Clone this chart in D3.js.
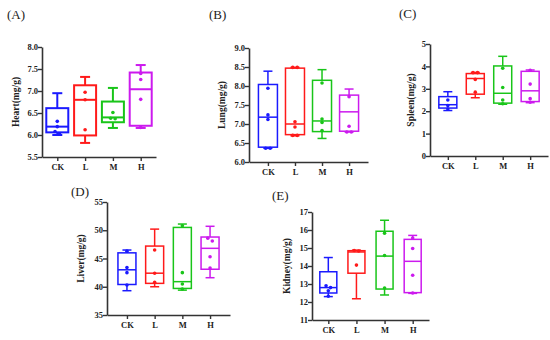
<!DOCTYPE html>
<html>
<head>
<meta charset="utf-8">
<script src="https://cdn.jsdelivr.net/npm/d3@7"></script>
<style>
  body { margin: 0; background: #fff; }
  text { font-family: "Liberation Serif", "Times New Roman", serif; }
</style>
</head>
<body>
<div id="chart"></div>
<script>
var groups = ["CK", "L", "M", "H"];
var colors = ["#1a1aff", "#ff1a1a", "#19c519", "#cc1aee"];

// five-number summaries per group: [min, q1, median, q3, max]
var heartStats = [[6.00, 6.06, 6.19, 6.61, 6.95], [5.82, 5.99, 6.80, 7.13, 7.32], [6.16, 6.29, 6.40, 6.76, 7.07], [6.16, 6.21, 7.04, 7.42, 7.59]];
var heartPoints = [[6.31, 6.19, 6.08, 6.02], [6.97, 6.80, 6.12], [6.51, 6.38, 6.37], [7.40, 7.26, 6.81, 6.17]];

var lungStats = [[6.36, 6.39, 7.18, 8.04, 8.39], [6.69, 6.72, 7.00, 8.47, 8.49], [6.62, 6.80, 7.08, 8.15, 8.43], [6.79, 6.81, 7.32, 7.76, 7.92]];
var lungPoints = [[7.94, 7.24, 7.12, 6.36, 6.36], [8.49, 8.49, 7.06, 6.92, 6.70, 6.70], [8.08, 7.13, 7.04, 6.83], [7.72, 6.94, 6.79, 6.79]];

var spleenStats = [[2.03, 2.14, 2.29, 2.65, 2.87], [2.60, 2.76, 3.46, 3.68, 3.73], [2.31, 2.36, 2.80, 4.02, 4.45], [2.38, 2.43, 2.91, 3.78, 3.84]];
var spleenPoints = [[2.50, 2.25, 2.10], [3.72, 3.72, 3.42, 2.85], [3.92, 3.06, 2.50, 2.33], [3.83, 3.21, 2.56, 2.40]];

var liverStats = [[39.3, 40.4, 43.0, 46.0, 46.5], [40.0, 40.6, 42.4, 47.2, 50.2], [39.4, 39.7, 40.9, 50.5, 51.1], [41.6, 43.1, 46.8, 48.8, 50.7]];
var liverPoints = [[46.3, 43.4, 42.5, 40.3], [46.5, 42.4, 40.8], [50.8, 42.5, 40.5, 39.6], [48.6, 48.1, 45.3, 43.3]];

var kidneyStats = [[12.30, 12.50, 12.80, 13.68, 14.47], [12.18, 13.60, 14.78, 14.85, 14.88], [12.39, 12.72, 14.55, 15.93, 16.54], [12.48, 12.52, 14.26, 15.48, 15.70]];
var kidneyPoints = [[12.90, 12.80, 12.62, 12.32], [14.86, 14.83, 14.05], [15.82, 14.58, 12.78], [15.55, 14.97, 13.49, 12.50]];

var heartTicks = [5.5, 6.0, 6.5, 7.0, 7.5, 8.0];
var lungTicks = [6.0, 6.5, 7.0, 7.5, 8.0, 8.5, 9.0];
var spleenTicks = [0, 1, 2, 3, 4, 5];
var liverTicks = [35, 40, 45, 50, 55];
var kidneyTicks = [11, 12, 13, 14, 15, 16, 17];

var panels = [
  { tag: "(A)", title: "Heart(mg/g)", stats: heartStats, points: heartPoints, ticks: heartTicks, fmt: ".1f",
    x0: 42, x1: 156, pad: 0.55, yTop: 47, yBot: 157, tagX: 7, tagY: 19, titleX: 17, boxW: 22, capW: 10, sw: 2 },
  { tag: "(B)", title: "Lung(mg/g)", stats: lungStats, points: lungPoints, ticks: lungTicks, fmt: ".1f",
    x0: 249, x1: 368, pad: 0.7, yTop: 48, yBot: 162, tagX: 209, tagY: 19, titleX: 223, boxW: 19, capW: 9, sw: 1.5 },
  { tag: "(C)", title: "Spleen(mg/g)", stats: spleenStats, points: spleenPoints, ticks: spleenTicks, fmt: "d",
    x0: 430, x1: 548, pad: 0.65, yTop: 44, yBot: 156, tagX: 399, tagY: 18, titleX: 412, boxW: 18, capW: 9, sw: 1.5 },
  { tag: "(D)", title: "Liver(mg/g)", stats: liverStats, points: liverPoints, ticks: liverTicks, fmt: "d",
    x0: 107, x1: 230, pad: 0.72, yTop: 202, yBot: 315, tagX: 71, tagY: 196, titleX: 82, boxW: 18, capW: 9, sw: 1.5 },
  { tag: "(E)", title: "Kidney(mg/g)", stats: kidneyStats, points: kidneyPoints, ticks: kidneyTicks, fmt: "d",
    x0: 312, x1: 429, pad: 0.58, yTop: 212, yBot: 320, tagX: 272, tagY: 200, titleX: 288, boxW: 17, capW: 9, sw: 1.5 }
];

var svg = d3.select("#chart").append("svg")
  .attr("width", 550)
  .attr("height", 340);

panels.forEach(function (p) {
  var g = svg.append("g");

  var x = d3.scalePoint().domain(groups).range([p.x0, p.x1]).padding(p.pad);
  var y = d3.scaleLinear().domain(d3.extent(p.ticks)).range([p.yBot, p.yTop]);

  // panel tag
  g.append("text")
    .attr("x", p.tagX).attr("y", p.tagY)
    .attr("font-size", 13)
    .attr("fill", "#222")
    .text(p.tag);

  // axes
  var yAxis = g.append("g")
    .attr("transform", "translate(" + p.x0 + ",0)")
    .call(d3.axisLeft(y).tickValues(p.ticks).tickFormat(d3.format(p.fmt)).tickSize(4).tickSizeOuter(0));
  var xAxis = g.append("g")
    .attr("transform", "translate(0," + p.yBot + ")")
    .call(d3.axisBottom(x).tickSize(4).tickSizeOuter(0));

  [yAxis, xAxis].forEach(function (a) {
    a.select(".domain").attr("stroke", "#333").attr("stroke-width", 1.6);
    a.selectAll(".tick line").attr("stroke", "#333").attr("stroke-width", 1.4);
    a.selectAll(".tick text")
      .attr("font-family", "Liberation Serif, Times New Roman, serif")
      .attr("font-weight", "bold")
      .attr("font-size", 8.5)
      .attr("fill", "#222");
  });
  yAxis.selectAll(".tick text").attr("x", -4);
  xAxis.selectAll(".tick text").attr("y", 7);

  // y title
  g.append("text")
    .attr("transform", "translate(" + p.titleX + "," + (p.yTop + p.yBot) / 2 + ") rotate(-90)")
    .attr("text-anchor", "middle")
    .attr("dominant-baseline", "middle")
    .attr("font-weight", "bold")
    .attr("font-size", 9.5)
    .attr("fill", "#222")
    .text(p.title);

  // boxes
  var box = g.selectAll(".box")
    .data(p.stats)
    .enter().append("g")
    .attr("class", "box")
    .attr("stroke", function (d, i) { return colors[i]; })
    .attr("stroke-width", p.sw)
    .attr("fill", "none");

  box.append("line")
    .attr("x1", function (d, i) { return x(groups[i]); })
    .attr("x2", function (d, i) { return x(groups[i]); })
    .attr("y1", function (d) { return y(d[4]); })
    .attr("y2", function (d) { return y(d[3]); });
  box.append("line")
    .attr("x1", function (d, i) { return x(groups[i]); })
    .attr("x2", function (d, i) { return x(groups[i]); })
    .attr("y1", function (d) { return y(d[1]); })
    .attr("y2", function (d) { return y(d[0]); });
  [0, 4].forEach(function (k) {
    box.append("line")
      .attr("x1", function (d, i) { return x(groups[i]) - p.capW / 2; })
      .attr("x2", function (d, i) { return x(groups[i]) + p.capW / 2; })
      .attr("y1", function (d) { return y(d[k]); })
      .attr("y2", function (d) { return y(d[k]); });
  });
  box.append("rect")
    .attr("x", function (d, i) { return x(groups[i]) - p.boxW / 2; })
    .attr("width", p.boxW)
    .attr("y", function (d) { return y(d[3]); })
    .attr("height", function (d) { return y(d[1]) - y(d[3]); });
  box.append("line")
    .attr("x1", function (d, i) { return x(groups[i]) - p.boxW / 2; })
    .attr("x2", function (d, i) { return x(groups[i]) + p.boxW / 2; })
    .attr("y1", function (d) { return y(d[2]); })
    .attr("y2", function (d) { return y(d[2]); });

  // individual points, spread sideways when they overlap
  p.points.forEach(function (vals, i) {
    var sorted = vals.slice().sort(d3.descending);
    var clusters = [];
    sorted.forEach(function (v) {
      var last = clusters[clusters.length - 1];
      if (last && Math.abs(y(last[last.length - 1]) - y(v)) < 3) last.push(v);
      else clusters.push([v]);
    });
    clusters.forEach(function (c) {
      c.forEach(function (v, j) {
        g.append("circle")
          .attr("cx", x(groups[i]) + (j - (c.length - 1) / 2) * 4.5)
          .attr("cy", y(v))
          .attr("r", 1.8)
          .attr("fill", colors[i]);
      });
    });
  });
});
</script>
</body>
</html>
